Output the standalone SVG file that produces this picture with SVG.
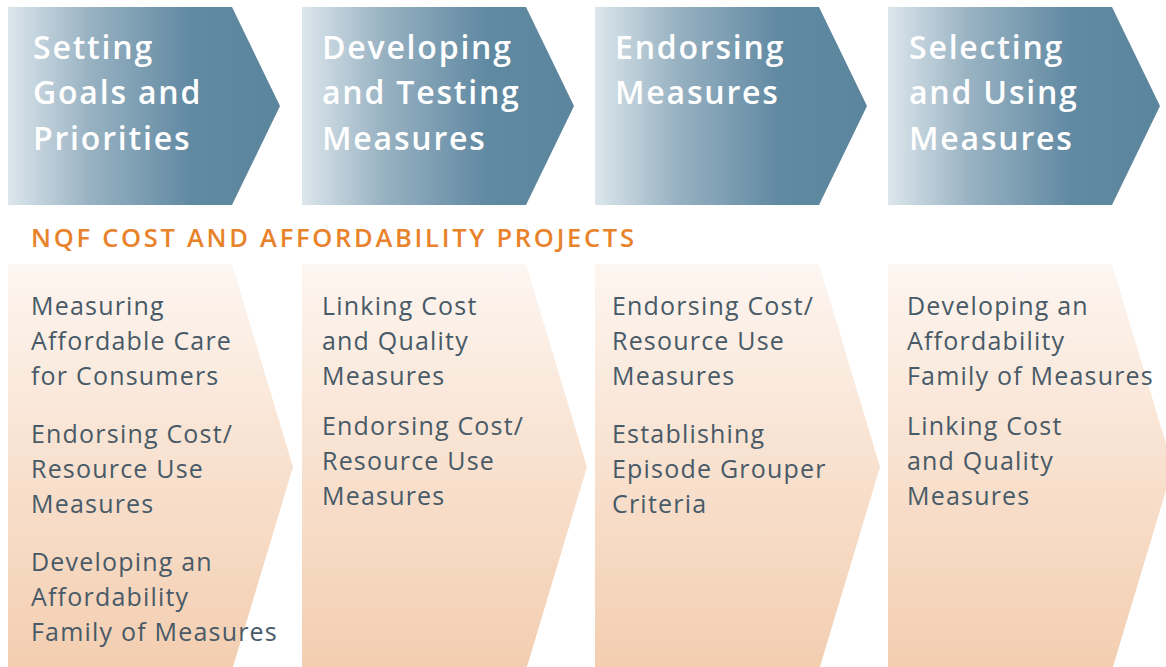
<svg xmlns="http://www.w3.org/2000/svg" width="1166" height="667" viewBox="0 0 1166 667">
  <defs>
    <linearGradient id="stageFill" x1="0" y1="0" x2="1" y2="0">
      <stop offset="0" stop-color="#dce6ec"/>
      <stop offset="0.3" stop-color="#98b2c2"/>
      <stop offset="0.68" stop-color="#6089a2"/>
      <stop offset="1" stop-color="#5b849d"/>
    </linearGradient>
    <linearGradient id="projectFill" x1="0" y1="0" x2="0" y2="1">
      <stop offset="0" stop-color="#fdf6f1"/>
      <stop offset="0.5" stop-color="#f8e1cf"/>
      <stop offset="1" stop-color="#f3ceb0"/>
    </linearGradient>
    <style>
      .stage { fill: url(#stageFill); }
      .project { fill: url(#projectFill); }
      .stage-text { font-family: "Open Sans", "Liberation Sans", sans-serif; font-weight: 600; font-size: 32px; fill: #ffffff; letter-spacing: 1.8px; }
      .project-text { font-family: "Open Sans", "Liberation Sans", sans-serif; font-weight: 400; font-size: 25px; fill: #485a67; letter-spacing: 1.2px; }
      .section-title { font-family: "Open Sans", "Liberation Sans", sans-serif; font-weight: 600; font-size: 25.5px; fill: #e8832b; }
    </style>
  </defs>

  <rect width="1166" height="667" fill="#ffffff"/>

  <!-- Stage chevrons -->
  <g id="stage-goals">
    <polygon class="stage" points="8,7 232,7 280,106 232,205 8,205"/>
    <text class="stage-text"><tspan x="33" y="59">Setting</tspan><tspan x="33" y="104">Goals and</tspan><tspan x="33" y="150">Priorities</tspan></text>
  </g>
  <g id="stage-developing">
    <polygon class="stage" points="302,7 526,7 574,106 526,205 302,205"/>
    <text class="stage-text"><tspan x="322" y="59">Developing</tspan><tspan x="322" y="104">and Testing</tspan><tspan x="322" y="150">Measures</tspan></text>
  </g>
  <g id="stage-endorsing">
    <polygon class="stage" points="595,7 819,7 867,106 819,205 595,205"/>
    <text class="stage-text"><tspan x="615" y="59">Endorsing</tspan><tspan x="615" y="104">Measures</tspan></text>
  </g>
  <g id="stage-selecting">
    <polygon class="stage" points="888,7 1112,7 1160,106 1112,205 888,205"/>
    <text class="stage-text"><tspan x="909" y="59">Selecting</tspan><tspan x="909" y="104">and Using</tspan><tspan x="909" y="150">Measures</tspan></text>
  </g>

  <text id="section-title" class="section-title" x="31" y="247" textLength="603" lengthAdjust="spacing">NQF COST AND AFFORDABILITY PROJECTS</text>

  <!-- Project columns -->
  <g id="projects-goals">
    <polygon class="project" points="8,264 232,264 293,467 232,670 8,670"/>
    <text class="project-text">
      <tspan x="31" y="315">Measuring</tspan><tspan x="31" y="350">Affordable Care</tspan><tspan x="31" y="385">for Consumers</tspan>
      <tspan x="31" y="443">Endorsing Cost/</tspan><tspan x="31" y="478">Resource Use</tspan><tspan x="31" y="513">Measures</tspan>
      <tspan x="31" y="571">Developing an</tspan><tspan x="31" y="606">Affordability</tspan><tspan x="31" y="641">Family of Measures</tspan>
    </text>
  </g>
  <g id="projects-developing">
    <polygon class="project" points="302,264 526,264 587,467 526,670 302,670"/>
    <text class="project-text">
      <tspan x="322" y="315">Linking Cost</tspan><tspan x="322" y="350">and Quality</tspan><tspan x="322" y="385">Measures</tspan>
      <tspan x="322" y="435">Endorsing Cost/</tspan><tspan x="322" y="470">Resource Use</tspan><tspan x="322" y="505">Measures</tspan>
    </text>
  </g>
  <g id="projects-endorsing">
    <polygon class="project" points="595,264 819,264 880,467 819,670 595,670"/>
    <text class="project-text">
      <tspan x="612" y="315">Endorsing Cost/</tspan><tspan x="612" y="350">Resource Use</tspan><tspan x="612" y="385">Measures</tspan>
      <tspan x="612" y="443">Establishing</tspan><tspan x="612" y="478">Episode Grouper</tspan><tspan x="612" y="513">Criteria</tspan>
    </text>
  </g>
  <g id="projects-selecting">
    <polygon class="project" points="888,264 1112,264 1173,467 1112,670 888,670"/>
    <text class="project-text">
      <tspan x="907" y="315">Developing an</tspan><tspan x="907" y="350">Affordability</tspan><tspan x="907" y="385">Family of Measures</tspan>
      <tspan x="907" y="435">Linking Cost</tspan><tspan x="907" y="470">and Quality</tspan><tspan x="907" y="505">Measures</tspan>
    </text>
  </g>

  <g id="connectors"/>
</svg>
